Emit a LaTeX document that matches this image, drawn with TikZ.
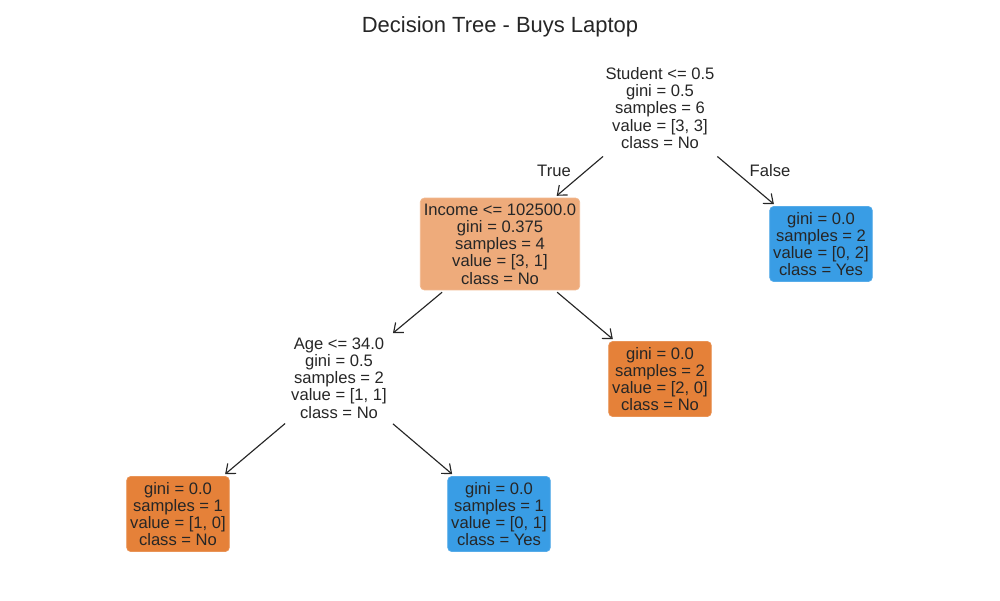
\documentclass[tikz,border=0pt]{standalone}
\usepackage{fontspec}
\setmainfont{Liberation Sans}
\usepackage{xcolor}
\usetikzlibrary{positioning,arrows.meta}

\definecolor{txtgray}{HTML}{262626}
\definecolor{leafno}{HTML}{E58139}
\definecolor{splitno}{HTML}{EEAB7B}
\definecolor{leafyes}{HTML}{399DE5}

\tikzset{
  treenode/.style={rounded corners=0.8mm, align=center, inner xsep=2pt, inner ysep=3.2pt,
    text=txtgray, font=\fontsize{9.45}{9.8}\selectfont},
  nofill/.style={treenode},
  nobox/.style={treenode, fill=leafno, draw=leafno!85!white},
  halfbox/.style={treenode, fill=splitno, draw=splitno!85!white},
  yesbox/.style={treenode, fill=leafyes, draw=leafyes!85!white},
  branch/.style={-{Straight Barb[length=1.6mm,width=2.6mm]}, draw=txtgray, line width=0.65pt,
    shorten >=0.06cm, shorten <=0.06cm},
  edgelabel/.style={text=txtgray, font=\fontsize{9.45}{9.8}\selectfont}
}

\begin{document}
\begin{tikzpicture}[x=0.02cm, y=-0.02cm]
    \useasboundingbox (0,0) rectangle (1000,600);
    \node[text=txtgray, font=\fontsize{12.5}{14}\selectfont] (title) at (500,27) {Decision Tree - Buys Laptop};

    % splits
    \node[nofill] (root) at (660,108) {Student <= 0.5\\gini = 0.5\\samples = 6\\value = [3, 3]\\class = No};
    \node[halfbox] (income) at (500,244) {Income <= 102500.0\\gini = 0.375\\samples = 4\\value = [3, 1]\\class = No};
    \node[nofill] (age) at (339,378) {Age <= 34.0\\gini = 0.5\\samples = 2\\value = [1, 1]\\class = No};

    % leaves
    \node[yesbox] (rootR) at (821,244) {gini = 0.0\\samples = 2\\value = [0, 2]\\class = Yes};
    \node[nobox] (incomeR) at (660,379) {gini = 0.0\\samples = 2\\value = [2, 0]\\class = No};
    \node[nobox] (ageL) at (178,514) {gini = 0.0\\samples = 1\\value = [1, 0]\\class = No};
    \node[yesbox] (ageR) at (499,514) {gini = 0.0\\samples = 1\\value = [0, 1]\\class = Yes};

    \draw[branch] (root) -- (income);
    \draw[branch] (root) -- (rootR);
    \draw[branch] (income) -- (age);
    \draw[branch] (income) -- (incomeR);
    \draw[branch] (age) -- (ageL);
    \draw[branch] (age) -- (ageR);

    \node[edgelabel] (truelab) at (554,171) {True};
    \node[edgelabel] (falselab) at (770,171) {False};
\end{tikzpicture}
\end{document}
